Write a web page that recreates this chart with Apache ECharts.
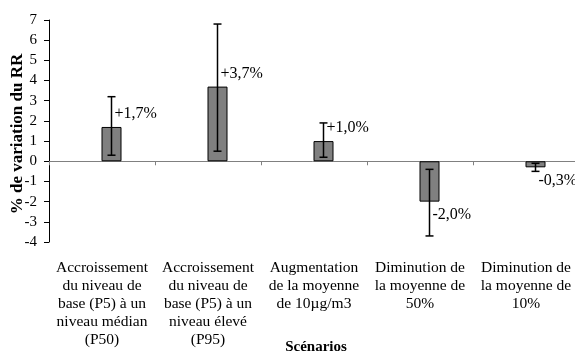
<!DOCTYPE html>
<html>
<head>
<meta charset="utf-8">
<script src="https://cdn.jsdelivr.net/npm/echarts@6/dist/echarts.min.js"></script>
<style>html,body{margin:0;padding:0;background:#fff}#c{width:575px;height:354px}</style>
</head>
<body>
<div id="c"></div>
<script>
var categories = [
  "Accroissement\ndu niveau de\nbase (P5) à un\nniveau médian\n(P50)",
  "Accroissement\ndu niveau de\nbase (P5) à un\nniveau élevé\n(P95)",
  "Augmentation\nde la moyenne\nde 10µg/m3",
  "Diminution de\nla moyenne de\n50%",
  "Diminution de\nla moyenne de\n10%"
];
var values = [1.7, 3.7, 1.0, -2.0, -0.3];
var errLow = [0.3, 0.5, 0.2, -3.7, -0.5];
var errHigh = [3.2, 6.8, 1.9, -0.4, -0.1];
var valueLabels = ["+1,7%", "+3,7%", "+1,0%", "-2,0%", "-0,3%"];
var yTicks = { min: -4, max: 7, interval: 1 };

var FONT = "'Liberation Serif', 'Times New Roman', serif";
var chart = echarts.init(document.getElementById('c'), null, { renderer: 'canvas' });
var BAR_OFFSET = 9.5;

var errData = values.map(function (v, i) { return [i, errLow[i], errHigh[i], v]; });

chart.setOption({
  animation: false,
  backgroundColor: '#fff',
  grid: { left: 49, top: 20, right: -4, bottom: 112, containLabel: false, outerBoundsMode: 'none' },
  xAxis: [
    {
      type: 'category', data: categories, position: 'bottom',
      axisLine: { onZero: true, lineStyle: { color: '#808080', width: 1 } },
      axisTick: { show: true, alignWithLabel: false, inside: false, length: 4, lineStyle: { color: '#808080' } },
      axisLabel: { show: false },
      splitLine: { show: false }
    },
    {
      type: 'category', data: categories, position: 'bottom',
      axisLine: { show: false, onZero: false },
      axisTick: { show: false },
      axisLabel: { show: true, interval: 0, margin: 17, color: '#000', fontFamily: FONT, fontSize: 15.5, lineHeight: 18, align: 'center' }
    }
  ],
  yAxis: {
    type: 'value', min: yTicks.min, max: yTicks.max, interval: yTicks.interval,
    axisLine: { show: true, lineStyle: { color: '#000', width: 1 } },
    axisTick: { show: true, length: 5, lineStyle: { color: '#000' } },
    axisLabel: { color: '#000', fontFamily: FONT, fontSize: 15, margin: 12 },
    splitLine: { show: false }
  },
  graphic: [
    {
      type: 'text', x: 18, y: 134, rotation: Math.PI / 2,
      style: { text: '% de variation du RR', font: 'bold 17px ' + FONT, fill: '#000', align: 'center', verticalAlign: 'middle' }
    },
    {
      type: 'text', x: 316, y: 347,
      style: { text: 'Scénarios', font: 'bold 15px ' + FONT, fill: '#000', align: 'center', verticalAlign: 'middle' }
    }
  ],
  series: [
    { type: 'bar', xAxisIndex: 0, data: values.map(function () { return null; }), barWidth: 20 },
    {
      type: 'bar', xAxisIndex: 0, data: values, barWidth: 20, barGap: '-5%',
      itemStyle: { color: '#808080', borderColor: '#000', borderWidth: 1 }
    },
    {
      type: 'custom', xAxisIndex: 0, data: errData, z: 10,
      renderItem: function (params, api) {
        var i = api.value(0);
        var lo = api.coord([i, api.value(1)]);
        var hi = api.coord([i, api.value(2)]);
        var end = api.coord([i, api.value(3)]);
        var x = lo[0] + BAR_OFFSET;
        var cap = 4;
        var v = api.value(3);
        var ly = v >= 0 ? end[1] - 13 : end[1] + 13;
        var style = { stroke: '#000', lineWidth: 1.5 };
        return {
          type: 'group',
          children: [
            { type: 'line', shape: { x1: x, y1: lo[1], x2: x, y2: hi[1] }, style: style },
            { type: 'line', shape: { x1: x - cap, y1: lo[1], x2: x + cap, y2: lo[1] }, style: style },
            { type: 'line', shape: { x1: x - cap, y1: hi[1], x2: x + cap, y2: hi[1] }, style: style },
            { type: 'text', x: x + 3, y: ly, style: { text: valueLabels[params.dataIndex], font: '16px ' + FONT, fill: '#000', align: 'left', verticalAlign: 'middle' } }
          ]
        };
      }
    }
  ]
});
</script>
</body>
</html>
